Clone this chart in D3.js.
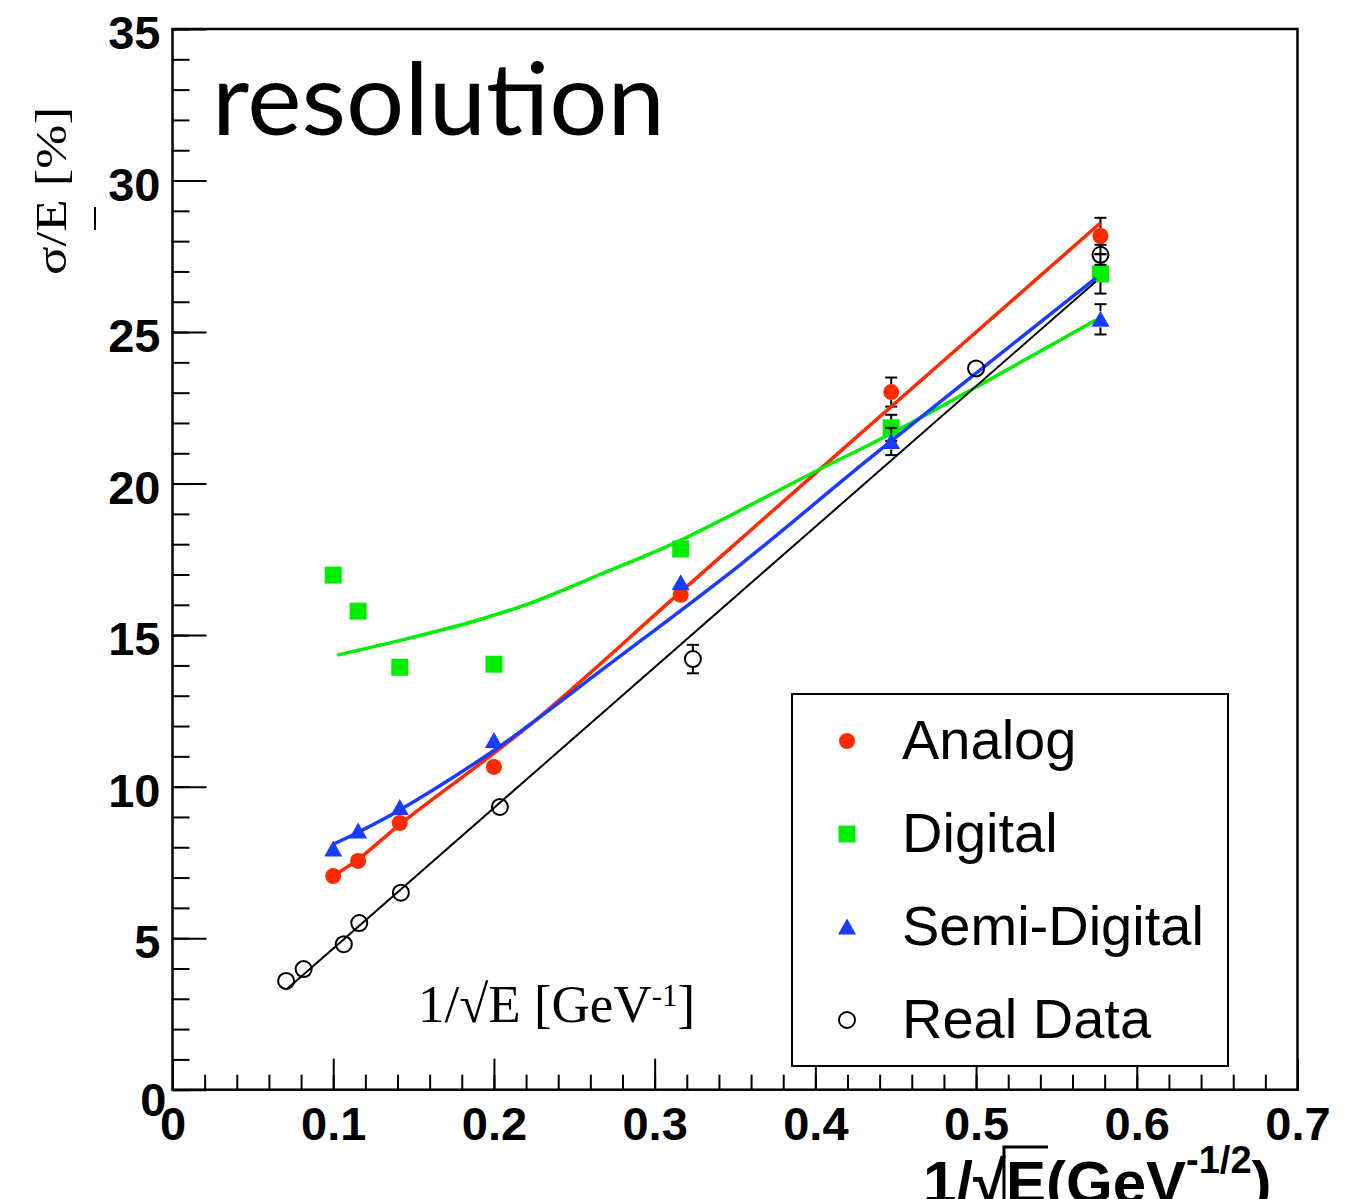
<!DOCTYPE html>
<html>
<head>
<meta charset="utf-8">
<script src="https://cdn.jsdelivr.net/npm/d3@7"></script>
<style>
body { margin: 0; background: #fff; }
</style>
</head>
<body>
<svg id="chart" width="1345" height="1199"></svg>
<script>
// tick labels
const xTickValues = [0, 0.1, 0.2, 0.3, 0.4, 0.5, 0.6, 0.7]
const xTickLabels = ['0', '0.1', '0.2', '0.3', '0.4', '0.5', '0.6', '0.7']
const yTickValues = [0, 5, 10, 15, 20, 25, 30, 35]
const yTickLabels = ['0', '5', '10', '15', '20', '25', '30', '35']

// simulation points (1/sqrt(E))
const simX = [0.1, 0.1155, 0.1414, 0.2, 0.3162, 0.4472, 0.5774]
const analog = [7.05, 7.55, 8.8, 10.65, 16.33, 23.02, 28.17]
const analogErr = [0, 0, 0, 0, 0, 0.48, 0.6]
const digital = [16.98, 15.79, 13.94, 14.04, 17.84, 21.84, 26.92]
const digitalErr = [0, 0, 0, 0, 0, 0.43, 0.65]
const semiDigital = [7.94, 8.54, 9.31, 11.52, 16.73, 21.39, 25.42]
const semiDigitalErr = [0, 0, 0, 0, 0, 0.45, 0.5]

// real data
const realX = [0.0707, 0.0816, 0.1066, 0.1162, 0.1421, 0.2037, 0.3238, 0.5, 0.5774]
const real = [3.59, 3.98, 4.8, 5.5, 6.5, 9.33, 14.21, 23.8, 27.55]
const realErr = [0, 0, 0, 0, 0, 0, 0.47, 0, 0.33]

// fit curves
const analogFitX = [0.1, 0.1155, 0.1414, 0.2224, 0.3157, 0.4109, 0.5774]
const analogFit = [7.05, 7.6, 8.75, 12.04, 16.4, 20.85, 28.6]
const digitalFitX = [0.1025, 0.1436, 0.1871, 0.2224, 0.2659, 0.3157, 0.4, 0.4478, 0.5745]
const digitalFit = [14.34, 14.85, 15.45, 16.05, 17.0, 18.12, 20.4, 21.67, 25.4]
const semiFitX = [0.1, 0.1146, 0.1395, 0.1977, 0.2224, 0.2659, 0.3532, 0.4339, 0.5745]
const semiFit = [8.1, 8.47, 9.17, 11.11, 12.05, 13.8, 17.32, 20.84, 26.78]
const realFitX = [0.0707, 0.5745]
const realFit = [3.3, 26.67]

const legendNames = ['Analog', 'Digital', 'Semi-Digital', 'Real Data']

const RED = '#ff2a00', GREEN = '#00ee00', BLUE = '#1a3cff'

const svg = d3.select('#chart')
const x = d3.scaleLinear().domain([0, 0.7]).range([172.5, 1297.5])
const y = d3.scaleLinear().domain([0, 35]).range([1089.7, 29])

// frame
svg.append('rect')
    .attr('x', x(0)).attr('y', y(35))
    .attr('width', x(0.7) - x(0)).attr('height', y(0) - y(35))
    .attr('fill', 'none').attr('stroke', '#000').attr('stroke-width', 2.5)

// x axis
svg.append('g').attr('transform', `translate(0,${y(0)})`)
    .call(d3.axisBottom(x).tickValues(d3.range(0, 0.7001, 0.02)).tickSizeInner(-15).tickSizeOuter(0).tickFormat(''))
    .call(g => g.select('.domain').remove())
    .selectAll('line').attr('stroke-width', 2)

svg.append('g').attr('transform', `translate(0,${y(0)})`)
    .call(d3.axisBottom(x).tickValues(xTickValues).tickSizeInner(-31).tickSizeOuter(0).tickPadding(17)
        .tickFormat((d, i) => xTickLabels[i]))
    .call(g => g.select('.domain').remove())
    .call(g => g.selectAll('line').attr('stroke-width', 2))
    .call(g => g.selectAll('text')
        .attr('font-family', 'Liberation Sans, Arial, sans-serif')
        .attr('font-weight', 'bold').attr('font-size', 47).attr('fill', '#000'))

// y axis
svg.append('g').attr('transform', `translate(${x(0)},0)`)
    .call(d3.axisLeft(y).tickValues(d3.range(0, 35.01, 1)).tickSizeInner(-17).tickSizeOuter(0).tickFormat(''))
    .call(g => g.select('.domain').remove())
    .selectAll('line').attr('stroke-width', 2)

svg.append('g').attr('transform', `translate(${x(0)},0)`)
    .call(d3.axisLeft(y).tickValues(yTickValues).tickSizeInner(-34).tickSizeOuter(0).tickPadding(12)
        .tickFormat((d, i) => yTickLabels[i]))
    .call(g => g.select('.domain').remove())
    .call(g => g.selectAll('line').attr('stroke-width', 2))
    .call(g => g.selectAll('text')
        .attr('dy', d => d === 0 ? '0.55em' : '0.42em')
        .attr('dx', d => d === 0 ? 6 : 0)
        .attr('font-family', 'Liberation Sans, Arial, sans-serif')
        .attr('font-weight', 'bold').attr('font-size', 47).attr('fill', '#000'))

// symbols
function drawMarker(sel, kind, color) {
    if (kind === 'circle')
        sel.append('circle').attr('r', 8).attr('fill', color)
    else if (kind === 'square')
        sel.append('rect').attr('x', -8.5).attr('y', -8.5).attr('width', 17).attr('height', 17).attr('fill', color)
    else if (kind === 'triangle')
        sel.append('path').attr('d', 'M0,-8.5L9,7.5L-9,7.5Z').attr('fill', color)
    else
        sel.append('circle').attr('r', 8).attr('fill', 'none').attr('stroke', '#000').attr('stroke-width', 2)
}

const line = d3.line().x(d => x(d[0])).y(d => y(d[1])).curve(d3.curveCatmullRom)

const series = [
    { xs: simX, ys: analog, err: analogErr, kind: 'circle', color: RED, fx: analogFitX, fy: analogFit, lw: 3.5 },
    { xs: simX, ys: digital, err: digitalErr, kind: 'square', color: GREEN, fx: digitalFitX, fy: digitalFit, lw: 3.5 },
    { xs: simX, ys: semiDigital, err: semiDigitalErr, kind: 'triangle', color: BLUE, fx: semiFitX, fy: semiFit, lw: 3.5 },
    { xs: realX, ys: real, err: realErr, kind: 'open', color: '#000', fx: realFitX, fy: realFit, lw: 2 }
]

series.forEach(s => {
    const pts = s.xs.map((v, i) => ({ x: v, y: s.ys[i], e: s.err[i] }))
    // error bars
    const eb = svg.append('g').attr('stroke', '#000').attr('stroke-width', 2)
    pts.filter(p => p.e > 0).forEach(p => {
        const cx = x(p.x), top = y(p.y + p.e), bot = y(p.y - p.e), cy = y(p.y)
        if (cy - top > 8) eb.append('line').attr('x1', cx).attr('x2', cx).attr('y1', top).attr('y2', cy - 8)
        if (bot - cy > 8) eb.append('line').attr('x1', cx).attr('x2', cx).attr('y1', cy + 8).attr('y2', bot)
        eb.append('line').attr('x1', cx - 6).attr('x2', cx + 6).attr('y1', top).attr('y2', top)
        eb.append('line').attr('x1', cx - 6).attr('x2', cx + 6).attr('y1', bot).attr('y2', bot)
    })
    // markers
    svg.append('g').selectAll('g').data(pts).join('g')
        .attr('transform', p => `translate(${x(p.x)},${y(p.y)})`)
        .each(function () { drawMarker(d3.select(this), s.kind, s.color) })
    // fit
    svg.append('path')
        .datum(s.fx.map((v, i) => [v, s.fy[i]]))
        .attr('d', line)
        .attr('fill', 'none').attr('stroke', s.color).attr('stroke-width', s.lw)
})

// legend
const leg = svg.append('g')
leg.append('rect').attr('x', 792).attr('y', 694).attr('width', 436).attr('height', 372)
    .attr('fill', '#fff').attr('stroke', '#000').attr('stroke-width', 2)
legendNames.forEach((name, i) => {
    const ly = 741 + i * 93
    drawMarker(leg.append('g').attr('transform', `translate(847,${ly})`), series[i].kind, series[i].color)
    leg.append('text').attr('x', 902).attr('y', ly + 18)
        .attr('font-family', 'Liberation Sans, Arial, sans-serif').attr('font-size', 56)
        .text(name)
})

// title
svg.append('text').attr('x', 212).attr('y', 135)
    .attr('font-family', 'Lato, sans-serif').attr('font-size', 100)
    .attr('textLength', 453).attr('lengthAdjust', 'spacingAndGlyphs')
    .text('resolution')

// y axis title
svg.append('text')
    .attr('transform', 'translate(66,275) rotate(-90)')
    .attr('font-family', 'Liberation Serif, Times New Roman, serif').attr('font-size', 44)
    .attr('textLength', 168).attr('lengthAdjust', 'spacingAndGlyphs')
    .text('σ/E [%]')
svg.append('line').attr('x1', 95).attr('x2', 95).attr('y1', 207).attr('y2', 230)
    .attr('stroke', '#000').attr('stroke-width', 2)

// inner label
const inner = svg.append('text').attr('x', 418).attr('y', 1022)
    .attr('font-family', 'Liberation Serif, Times New Roman, serif').attr('font-size', 53)
inner.append('tspan').text('1/√E [GeV')
inner.append('tspan').attr('font-size', 31).attr('dy', -16).text('-1')
inner.append('tspan').attr('dy', 16).text(']')

// x axis title (cut at bottom, as in the original)
const xt = svg.append('text').attr('x', 923).attr('y', 1203)
    .attr('font-family', 'Liberation Sans, Arial, sans-serif').attr('font-weight', 'bold').attr('font-size', 60)
xt.append('tspan').text('1/√E(GeV')
xt.append('tspan').attr('font-size', 38).attr('dy', -30).text('-1/2')
xt.append('tspan').attr('dy', 30).text(')')
const n = xt.node()
const eStart = 923 + n.getSubStringLength(0, 3)
const eEnd = 923 + n.getSubStringLength(0, 4)
svg.append('path')
    .attr('d', `M${eStart - 2},1199V1147H${eEnd + 2}`)
    .attr('fill', 'none').attr('stroke', '#000').attr('stroke-width', 3)
</script>
</body>
</html>
